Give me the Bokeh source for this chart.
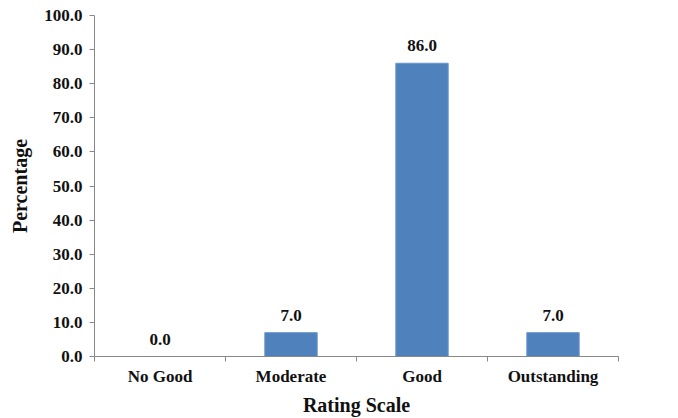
from bokeh.plotting import figure
from bokeh.models import FixedTicker, NumeralTickFormatter, ColumnDataSource, Range1d
from bokeh.core.properties import value
from bokeh.embed import file_html
from bokeh.resources import INLINE

categories = ["No Good", "Moderate", "Good", "Outstanding"]
percentages = [0.0, 7.0, 86.0, 7.0]
y_ticks = [0, 10, 20, 30, 40, 50, 60, 70, 80, 90, 100]

xs = [i + 0.5 for i in range(len(categories))]
src = ColumnDataSource(dict(x=xs, top=percentages,
                            lab=["%.1f" % v for v in percentages]))

FONT = "Liberation Serif"

p = figure(width=670, height=418, output_backend="svg", toolbar_location=None,
           x_range=Range1d(0, len(categories)), y_range=Range1d(0, 100),
           min_border_left=94, min_border_right=52, min_border_top=15, min_border_bottom=61)
p.outline_line_color = None
p.grid.visible = False

p.vbar(x="x", top="top", width=0.4, source=src, fill_color="#4f81bd",
       line_color="#6b97cc", line_width=1)
p.text(x="x", y="top", text="lab", source=src, text_align="center",
       text_baseline="bottom", y_offset=-12, text_font=value(FONT),
       text_font_style="bold", text_font_size="17px", text_color="#111111")

xa = p.xaxis[0]
xa.ticker = FixedTicker(ticks=xs, minor_ticks=list(range(len(categories) + 1)))
xa.major_label_overrides = {x: c for x, c in zip(xs, categories)}
xa.major_tick_out = 0
xa.major_tick_in = 0
xa.minor_tick_out = 5
xa.minor_tick_in = 0
xa.minor_tick_line_color = "#888888"
xa.axis_line_color = "#888888"
xa.axis_label = "Rating Scale"
xa.major_label_standoff = 5

ya = p.yaxis[0]
ya.ticker = FixedTicker(ticks=y_ticks)
ya.formatter = NumeralTickFormatter(format="0.0")
ya.major_tick_out = 5
ya.major_tick_in = 0
ya.minor_tick_out = 0
ya.minor_tick_in = 0
ya.major_tick_line_color = "#888888"
ya.axis_line_color = "#888888"
ya.axis_label = "Percentage"
ya.major_label_standoff = 7

for ax in (xa, ya):
    ax.major_label_text_font = FONT
    ax.major_label_text_font_style = "bold"
    ax.major_label_text_font_size = "17px"
    ax.major_label_text_color = "#111111"
    ax.axis_label_text_font = FONT
    ax.axis_label_text_font_style = "bold"
    ax.axis_label_text_font_size = "20px"
    ax.axis_label_text_color = "#111111"
xa.axis_label_standoff = 5
ya.axis_label_standoff = 10

open("out.html", "w").write(file_html(p, INLINE))
